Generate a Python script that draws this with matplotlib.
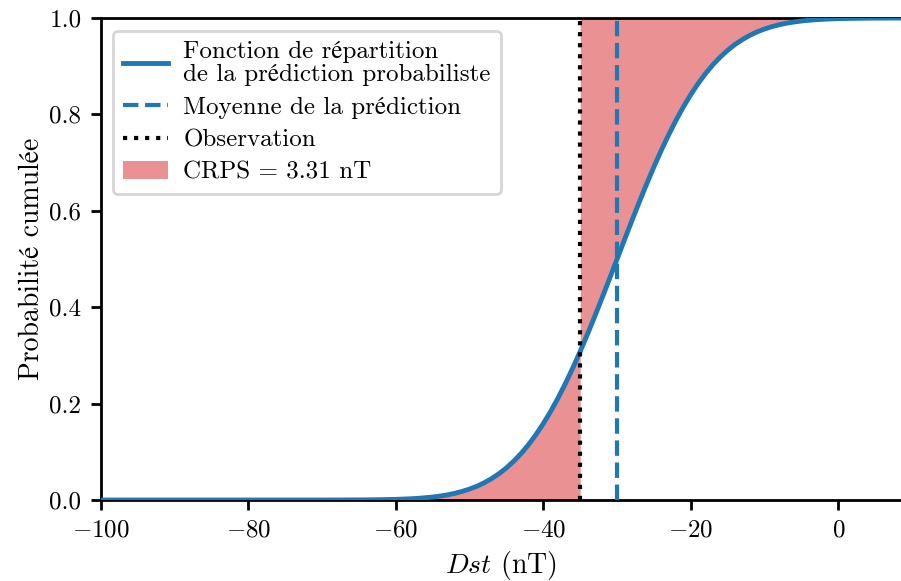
import matplotlib
matplotlib.use("Agg")
import matplotlib.pyplot as plt
import numpy as np

# cumulative distribution of the probabilistic forecast (1 nT steps)
dst = [-100, -70] + list(range(-65, 11))
cdf = [0.0, 0.0,
       0.0002, 0.0003, 0.0005, 0.0007, 0.0010, 0.0013, 0.0019, 0.0026, 0.0035, 0.0047,
       0.0062, 0.0082, 0.0107, 0.0139, 0.0179, 0.0228, 0.0287, 0.0359, 0.0446, 0.0548,
       0.0668, 0.0808, 0.0968, 0.1151, 0.1357, 0.1587, 0.1841, 0.2119, 0.2420, 0.2743,
       0.3085, 0.3446, 0.3821, 0.4207, 0.4602, 0.5, 0.5398, 0.5793, 0.6179, 0.6554,
       0.6915, 0.7257, 0.7580, 0.7881, 0.8159, 0.8413, 0.8643, 0.8849, 0.9032, 0.9192,
       0.9332, 0.9452, 0.9554, 0.9641, 0.9713, 0.9772, 0.9821, 0.9861, 0.9893, 0.9918,
       0.9938, 0.9953, 0.9965, 0.9974, 0.9981, 0.9987, 0.9990, 0.9993, 0.9995, 0.9997,
       0.9998, 0.9998, 0.9999, 0.9999, 1.0, 1.0]
mean_pred = -30
obs = -35
crps = 3.31

# cmr10 has no é, it is taken from STIX (serif) instead
plt.rcParams['font.family'] = ['cmr10', 'STIXGeneral']
plt.rcParams['mathtext.fontset'] = 'cm'
plt.rcParams['axes.formatter.use_mathtext'] = True
plt.rcParams['font.size'] = 9
plt.rcParams['axes.unicode_minus'] = True

x = np.array(dst)
F = np.array(cdf)

fig = plt.figure(figsize=(4.505, 2.905), dpi=200)
ax = fig.add_axes([0.112, 0.1394, 0.888, 0.8296])

ax.plot(x, F, color='tab:blue', lw=1.75, zorder=4,
        label='Fonction de répartition\nde la prédiction probabiliste')
ax.axvline(mean_pred, color='tab:blue', ls='--', lw=1.5, zorder=3,
           label='Moyenne de la prédiction')
ax.axvline(obs, color='black', ls=':', lw=1.5, zorder=5, label='Observation')
ax.fill_between(x, 0, F, where=x <= obs, color='tab:red', alpha=0.5,
                lw=0, zorder=1, label='CRPS = %.2f nT' % crps)
ax.fill_between(x, F, 1, where=x >= obs, color='tab:red', alpha=0.5,
                lw=0, zorder=1)

ax.set_xlim(-100, 8.5)
ax.set_ylim(0, 1)
ax.set_xticks([-100, -80, -60, -40, -20, 0])
ax.set_yticks([0, 0.2, 0.4, 0.6, 0.8, 1.0])
ax.yaxis.set_major_formatter(matplotlib.ticker.FormatStrFormatter('%.1f'))
ax.spines['right'].set_visible(False)
for s in ['left', 'bottom', 'top']:
    ax.spines[s].set_linewidth(1.0)
ax.tick_params(width=1.0, length=3.5)
ax.set_xlabel(r'$Dst$ (nT)', fontsize=10, labelpad=2.8)
ax.set_ylabel('Probabilité cumulée', fontsize=10, labelpad=1.5)
leg = ax.legend(loc='upper left', handlelength=1.8, handletextpad=0.6,
                labelspacing=0.4)
leg.get_texts()[0].set_linespacing(1.1)

fig.savefig('out.png', dpi=200)
